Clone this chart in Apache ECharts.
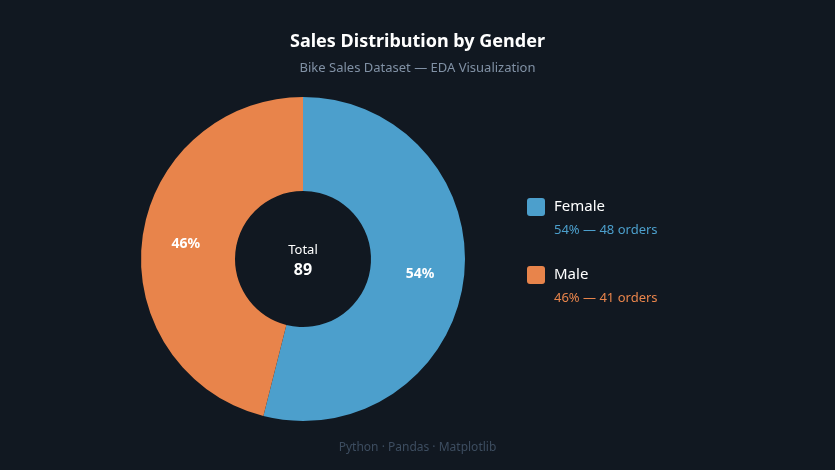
<!DOCTYPE html>
<html lang="en">
	<head>
		<meta charset="UTF-8" />
		<title>Sales Distribution by Gender</title>
		<script src="https://cdn.jsdelivr.net/npm/echarts@6.0.0/dist/echarts.min.js"></script>
		<style>
			html, body { margin: 0; padding: 0; background: #111821; }
		</style>
	</head>
	<body>
		<div id="main" style="width: 835px; height: 470px"></div>
		<script type="text/javascript">
			// data
			const genders = ["Female", "Male"];
			const orders = [48, 41];
			const colors = ["#4c9fcc", "#e8844b"];

			const total = orders.reduce((a, b) => a + b, 0);
			const pct = orders.map((v) => Math.round((v / total) * 100));
			const font = "Noto Sans";

			// legend on the right, drawn as graphic so the sub line sits under the name
			const legendItems = [];
			genders.forEach((g, i) => {
				const y = 198 + i * 68;
				legendItems.push({
					type: "rect",
					left: 527,
					top: y,
					shape: { width: 18, height: 18, r: 3 },
					style: { fill: colors[i] },
				});
				legendItems.push({
					type: "text",
					left: 554,
					top: y + 1,
					style: { text: g, fill: "#ffffff", font: "15px '" + font + "'" },
				});
				legendItems.push({
					type: "text",
					left: 554,
					top: y + 26,
					style: {
						text: pct[i] + "% \u2014 " + orders[i] + " orders",
						fill: colors[i],
						font: "13px '" + font + "'",
					},
				});
			});

			let options = {
				backgroundColor: "#111821",
				title: {
					text: "Sales Distribution by Gender",
					subtext: "Bike Sales Dataset \u2014 EDA Visualization",
					left: "center",
					top: 28,
					itemGap: 11,
					textStyle: { color: "#ffffff", fontSize: 18, fontWeight: "bold", fontFamily: font },
					subtextStyle: { color: "#8191a5", fontSize: 13, fontFamily: font },
				},
				graphic: [
					{
						type: "text",
						left: "center",
						top: 442,
						style: {
							text: "Python \u00b7 Pandas \u00b7 Matplotlib",
							fill: "#3d4d60",
							font: "12px '" + font + "'",
						},
					},
					{
						type: "text",
						x: 303,
						y: 250,
						style: {
							text: "Total",
							fill: "#ffffff",
							font: "13px '" + font + "'",
							align: "center",
							verticalAlign: "middle",
						},
					},
					{
						type: "text",
						x: 303,
						y: 270,
						style: {
							text: String(total),
							fill: "#ffffff",
							font: "bold 16px '" + font + "'",
							align: "center",
							verticalAlign: "middle",
						},
					},
				].concat(legendItems),
				series: [
					{
						name: "Gender",
						type: "pie",
						center: [303, 259],
						radius: [68, 162],
						startAngle: 90,
						clockwise: true,
						silent: true,
						animation: false,
						label: {
							show: true,
							position: "inside",
							color: "#ffffff",
							fontSize: 14,
							fontWeight: "bold",
							fontFamily: font,
						},
						labelLine: { show: false },
						itemStyle: { borderWidth: 0 },
						data: genders.map((g, i) => ({
							name: g,
							value: orders[i],
							itemStyle: { color: colors[i] },
						})),
					},
				],
			};

			// Initialise the echarts instance based on the prepared div
			let myChart = echarts.init(document.getElementById("main"));
			options.series[0].label.formatter = (p) => Math.round(p.percent) + "%";
			myChart.setOption(options);
		</script>
	</body>
</html>
